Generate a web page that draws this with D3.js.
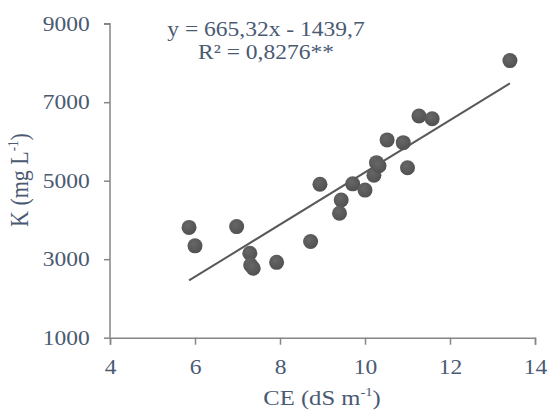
<!DOCTYPE html>
<html>
<head>
<meta charset="utf-8">
<script src="https://cdn.jsdelivr.net/npm/d3@7"></script>
<style>
  html, body { margin: 0; padding: 0; background: #fff; }
  svg { display: block; }
  text { font-family: "Liberation Serif", "Times New Roman", serif; fill: #4A5A72; }
</style>
</head>
<body>
<svg id="chart" width="550" height="411"></svg>
<script>
// Electrical conductivity (dS m-1) and potassium (mg L-1) observations
const ceValues = [5.86, 6.0, 6.98, 7.29, 7.31, 7.37, 7.92, 8.72, 8.94, 9.44, 9.40, 9.71, 10.0, 10.21, 10.27, 10.33, 10.52, 10.90, 11.0, 11.27, 11.58, 13.41];
const kValues  = [3810, 3340, 3830, 3150, 2850, 2770, 2920, 3450, 4910, 4510, 4170, 4920, 4760, 5140, 5460, 5380, 6040, 5970, 5330, 6650, 6580, 8060];

// Linear fit reported for the data
const slope = 665.32;
const intercept = -1439.7;
const equationLabel = "y = 665,32x - 1439,7";
const r2Label = "R² = 0,8276**";

const xTicks = [4, 6, 8, 10, 12, 14];
const yTicks = [1000, 3000, 5000, 7000, 9000];

// Text is drawn slightly wide
const stretch = 1.12;
const textColor = "#4A5A72";

const svg = d3.select("#chart");
const x = d3.scaleLinear().domain([4, 14]).range([110, 535]);
const y = d3.scaleLinear().domain([1000, 9000]).range([337.7, 23.7]);

const axisColor = "#868686";

// Y axis
const yAxis = svg.append("g")
  .attr("transform", `translate(${x(4)},0)`)
  .call(d3.axisLeft(y).tickValues(yTicks).tickSize(6).tickPadding(12).tickFormat(d3.format("d")));
// X axis
const xAxis = svg.append("g")
  .attr("transform", `translate(0,${y(1000)})`)
  .call(d3.axisBottom(x).tickValues(xTicks).tickSize(7).tickPadding(14).tickFormat(d3.format("d")));

[yAxis, xAxis].forEach(g => {
  g.select(".domain").attr("stroke", axisColor).attr("stroke-width", 1.5);
  g.selectAll(".tick line").attr("stroke", axisColor).attr("stroke-width", 1.5);
  g.selectAll(".tick text").attr("font-size", 21).attr("fill", textColor)
    .attr("font-family", "Liberation Serif, Times New Roman, serif")
    .attr("transform", `scale(${stretch},1)`);
});
yAxis.selectAll(".domain").attr("d", `M-6,${y(9000)}H0V${y(1000)}`);

// Trend line over the observed CE range
const xMin = d3.min(ceValues), xMax = d3.max(ceValues);
svg.append("line")
  .attr("x1", x(xMin)).attr("y1", y(slope * xMin + intercept))
  .attr("x2", x(xMax)).attr("y2", y(slope * xMax + intercept))
  .attr("stroke", "#595959").attr("stroke-width", 2);

// Shaded markers
const defs = svg.append("defs");
const grad = defs.append("radialGradient").attr("id", "dot").attr("cx", "40%").attr("cy", "35%").attr("r", "65%");
grad.append("stop").attr("offset", "0%").attr("stop-color", "#676767");
grad.append("stop").attr("offset", "100%").attr("stop-color", "#515151");

svg.append("g").selectAll("circle")
  .data(ceValues.map((c, i) => ({ c, k: kValues[i] })))
  .join("circle")
  .attr("cx", d => x(d.c))
  .attr("cy", d => y(d.k))
  .attr("r", 7.5)
  .attr("fill", "url(#dot)");

// Regression annotation
svg.append("text").attr("transform", `translate(266,36) scale(${stretch},1)`).attr("text-anchor", "middle")
  .attr("font-size", 21).text(equationLabel);
svg.append("text").attr("transform", `translate(266,59) scale(${stretch},1)`).attr("text-anchor", "middle")
  .attr("font-size", 21).text(r2Label);

// Axis titles
const yTitle = svg.append("text")
  .attr("transform", `translate(28,180) scale(${stretch},1) rotate(-90)`)
  .attr("text-anchor", "middle").attr("font-size", 22);
yTitle.append("tspan").text("K (mg L");
yTitle.append("tspan").attr("font-size", 13).attr("dy", -9).text("-1");
yTitle.append("tspan").attr("dy", 9).text(")");

const xTitle = svg.append("text")
  .attr("transform", `translate(322,405) scale(${stretch},1)`)
  .attr("text-anchor", "middle").attr("font-size", 22);
xTitle.append("tspan").text("CE (dS m");
xTitle.append("tspan").attr("font-size", 13).attr("dy", -9).text("-1");
xTitle.append("tspan").attr("dy", 9).text(")");
</script>
</body>
</html>
